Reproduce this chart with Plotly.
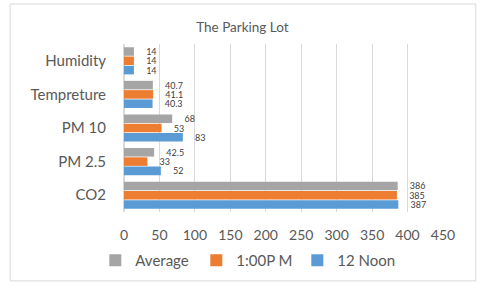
import plotly.graph_objects as go

categories = ["CO2", "PM 2.5", "PM 10", "Tempreture", "Humidity"]
noon = [387, 52, 83, 40.3, 14]
one_pm = [385, 33, 53, 41.1, 14]
average = [386, 42.5, 68, 40.7, 14]
noon_labels = ["387", "52", "83", "40.3", "14"]
one_pm_labels = ["385", "33", "53", "41.1", "14"]
average_labels = ["386", "42.5", "68", "40.7", "14"]

FONT = "Lato, Open Sans, sans-serif"

fig = go.Figure()
for name, vals, labels, color in [
    ("12 Noon", noon, noon_labels, "#5B9BD5"),
    ("1:00P M", one_pm, one_pm_labels, "#ED7D31"),
    ("Average", average, average_labels, "#A5A5A5"),
]:
    fig.add_trace(go.Bar(
        y=categories, x=vals, name=name, orientation="h",
        marker=dict(color=color, line=dict(width=0)),
        text=labels, texttemplate="    %{text}", textposition="outside",
        cliponaxis=False, constraintext="none",
        textfont=dict(size=9, color="#404040", family=FONT),
    ))

fig.update_layout(
    width=480, height=290,
    margin=dict(l=124, r=37, t=44, b=78, autoexpand=False),
    paper_bgcolor="white", plot_bgcolor="white",
    barmode="group", bargap=0.17, bargroupgap=0.08,
    title=dict(text="The Parking Lot", x=0.505, xref="container", xanchor="center",
               y=0.905, yanchor="middle",
               font=dict(size=13.5, color="#595959", family=FONT)),
    xaxis=dict(range=[0, 450], dtick=50, showgrid=True, gridcolor="#D9D9D9", gridwidth=1,
               zeroline=True, zerolinecolor="#D9D9D9", showline=False, automargin=False,
               tickfont=dict(size=14, color="#595959", family=FONT), ticks="", ticklen=0,
               ticklabelstandoff=13),
    yaxis=dict(categoryorder="array", categoryarray=categories, showgrid=False,
               automargin=False,
               tickfont=dict(size=15, color="#595959", family=FONT), ticks="",
               ticklabelstandoff=17),
    legend=dict(orientation="h", traceorder="reversed", x=0.385, xanchor="center",
                y=-0.19, yanchor="top", font=dict(size=15, color="#595959", family=FONT),
                itemwidth=30, entrywidth=56, entrywidthmode="pixels", tracegroupgap=0),
    showlegend=True,
    shapes=[dict(type="rect", xref="paper", yref="paper", x0=-0.357, x1=1.103,
                 y0=-0.41, y1=1.238, line=dict(color="#D9D9D9", width=1))],
)

fig.write_html("out.html", config={"displayModeBar": False},
               post_script="document.body.style.margin='0';document.body.style.overflow='hidden';")
